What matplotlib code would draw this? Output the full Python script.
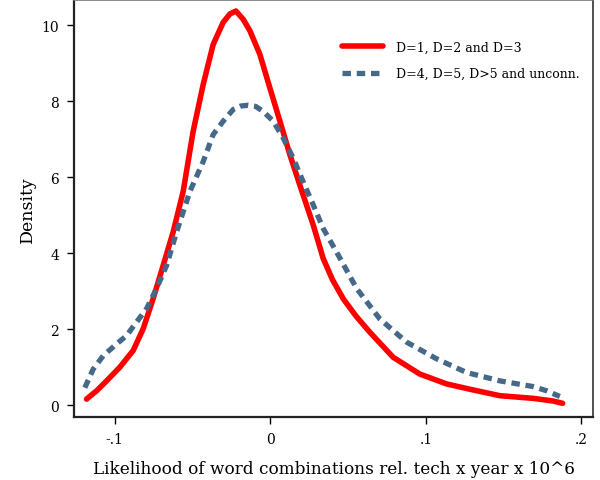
import matplotlib
matplotlib.use("Agg")
import matplotlib.pyplot as plt

plt.rcParams['font.family'] = ['DejaVu Serif']

# D=1, D=2 and D=3
red_x = [-0.1181, -0.1140, -0.1116, -0.1052, -0.0967, -0.0881, -0.0817, -0.0753, -0.0688,
         -0.0624, -0.0560, -0.0496, -0.0431, -0.0367, -0.0303, -0.0260, -0.0221, -0.0174,
         -0.0131, -0.0067, -0.0003, 0.0062, 0.0126, 0.0190, 0.0276, 0.0340, 0.0400,
         0.0469, 0.0550, 0.0640, 0.0790, 0.0961, 0.1133, 0.1283, 0.1476, 0.1690,
         0.1818, 0.1879]
red_y = [0.16, 0.30, 0.38, 0.64, 1.00, 1.44, 2.01, 2.80, 3.68,
         4.56, 5.62, 7.20, 8.44, 9.49, 10.07, 10.29, 10.37, 10.15,
         9.85, 9.23, 8.35, 7.47, 6.59, 5.79, 4.74, 3.86, 3.30,
         2.80, 2.35, 1.92, 1.26, 0.82, 0.56, 0.42, 0.25, 0.18,
         0.11, 0.05]

# D=4, D=5, D>5 and unconn.
blue_x = [-0.1192, -0.1138, -0.1074, -0.0988, -0.0924, -0.0859, -0.0795, -0.0731,
          -0.0666, -0.0602, -0.0517, -0.0431, -0.0367, -0.0303, -0.0238, -0.0190,
          -0.0142, -0.0094, -0.0046, 0.0019, 0.0083, 0.0147, 0.0211, 0.0276, 0.0340,
          0.0426, 0.0555, 0.0704, 0.0876, 0.1069, 0.1262, 0.1476, 0.1690, 0.1776,
          0.1861]
blue_y = [0.46, 0.95, 1.30, 1.61, 1.83, 2.19, 2.54, 3.07,
          3.68, 4.56, 5.62, 6.41, 7.12, 7.47, 7.78, 7.87,
          7.89, 7.86, 7.73, 7.47, 7.03, 6.50, 5.88, 5.27, 4.65,
          4.03, 3.07, 2.27, 1.66, 1.22, 0.86, 0.64, 0.49, 0.38,
          0.23]

xticks = [-0.1, 0, 0.1, 0.2]
xtick_labels = ['-.1', '0', '.1', '.2']
yticks = [0, 2, 4, 6, 8, 10]

fig = plt.figure(figsize=(6, 4.81), dpi=100)
ax = fig.add_axes([0.124, 0.131, 0.864, 0.867])

ax.plot(red_x, red_y, color='#ff0000', lw=4, solid_capstyle='round',
        solid_joinstyle='round', label='D=1, D=2 and D=3')
ax.plot(blue_x, blue_y, color='#46698a', lw=3.8, dashes=(1.6, 1.1),
        label='D=4, D=5, D>5 and unconn.')

ax.set_xlim(-0.1259, 0.2073)
ax.set_ylim(-0.31, 10.66)
ax.set_xticks(xticks)
ax.set_xticklabels(xtick_labels)
ax.set_yticks(yticks)
ax.tick_params(direction='out', length=5, width=1, labelsize=10, pad=6)

for s in ['left', 'bottom']:
    ax.spines[s].set_linewidth(1.6)
    ax.spines[s].set_color('#222222')
ax.spines['top'].set_color('#777777')
ax.spines['right'].set_color('#333333')
ax.spines['top'].set_linewidth(1.2)
ax.spines['right'].set_linewidth(1.2)

ax.set_xlabel('Likelihood of word combinations rel. tech x year x 10^6', fontsize=12.2, labelpad=10)
ax.set_ylabel('Density', fontsize=12.5, labelpad=4)

ax.legend(loc='upper left', frameon=False, fontsize=9, handlelength=3.28,
          handletextpad=1.04, labelspacing=1.08, borderaxespad=0,
          bbox_to_anchor=(0.507, 0.915))

fig.savefig('out.png', dpi=100)
